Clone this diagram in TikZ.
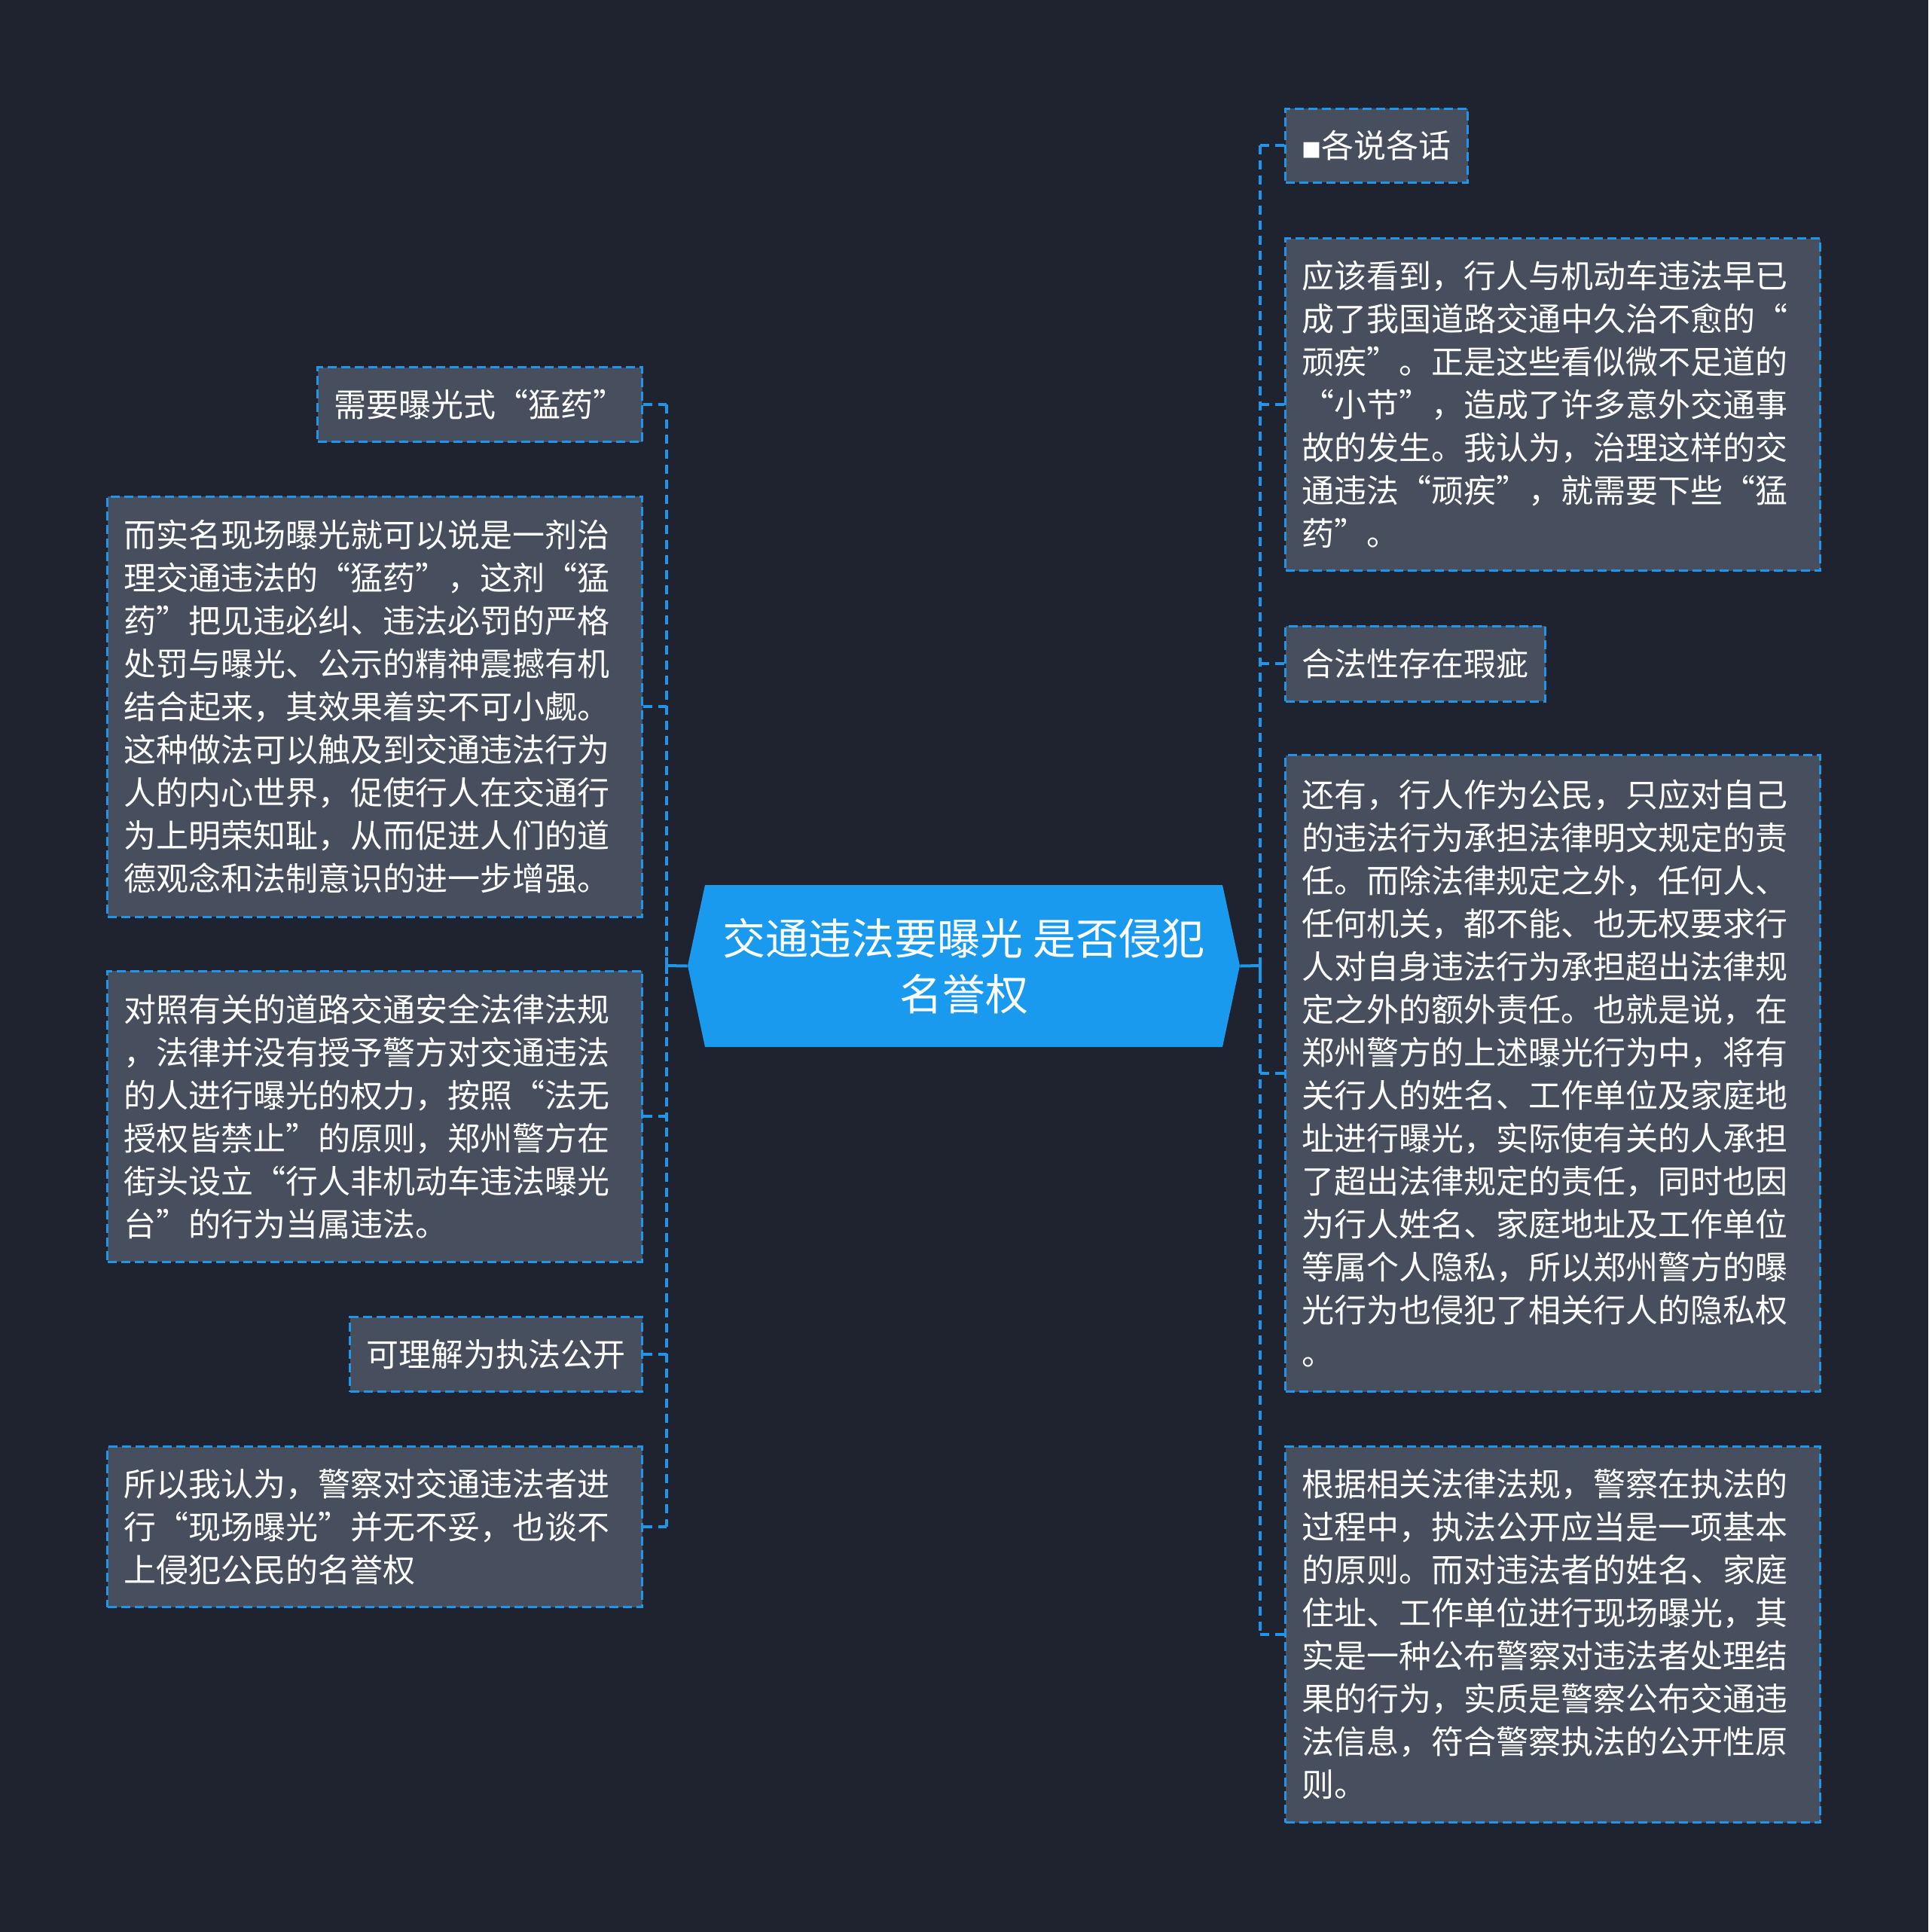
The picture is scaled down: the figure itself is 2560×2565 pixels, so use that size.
\documentclass[tikz,border=0pt]{standalone}
\usepackage{fontspec}
\setmainfont{Noto Sans CJK SC}
\definecolor{bg}{HTML}{1F2330}
\definecolor{boxfill}{HTML}{474E5E}
\definecolor{lineblue}{HTML}{1E96EA}
\definecolor{centerblue}{HTML}{1A9AEF}
\tikzset{
  leaf/.style={draw=lineblue, fill=boxfill, line width=1.5pt, dash pattern=on 6pt off 3pt,
    text=white, inner xsep=11pt, inner ysep=0pt, align=left,
    font=\fontsize{21.5pt}{28.5pt}\selectfont},
  wide/.style={leaf, text width=333pt},
  conn/.style={draw=lineblue, line width=2pt, dash pattern=on 6pt off 4pt},
  solidconn/.style={draw=lineblue, line width=2pt},
  centertext/.style={text=white, align=center, inner sep=0pt,
    font=\fontsize{28.5pt}{37pt}\selectfont}
}
\begin{document}
\begin{tikzpicture}[x=0.5pt,y=-0.5pt]
\path[fill=bg] (0,0) rectangle (2560,2565);
\useasboundingbox (0,0) rectangle (2560,2565);

% central topic
\fill[centerblue] (913,1282) -- (936,1175) -- (1623,1175) -- (1646,1282) -- (1623,1390) -- (936,1390) -- cycle;
\node[centertext, minimum width=366.5pt, minimum height=107.5pt] (c) at (1279.5,1282.5)
  {交通违法要曝光 是否侵犯\\名誉权};

\coordinate (jl) at (885,1282);
\coordinate (jr) at (1673,1282);

% left nodes
\node[leaf, anchor=east, minimum height=49.5pt] (L1) at (854,537) {需要曝光式“猛药”};
\node[wide, anchor=east, minimum height=279pt] (L2) at (854,938) {而实名现场曝光就可以说是一剂治\\
理交通违法的“猛药”，这剂“猛\\
药”把见违必纠、违法必罚的严格\\
处罚与曝光、公示的精神震撼有机\\
结合起来，其效果着实不可小觑。\\
这种做法可以触及到交通违法行为\\
人的内心世界，促使行人在交通行\\
为上明荣知耻，从而促进人们的道\\
德观念和法制意识的进一步增强。};
\node[wide, anchor=east, minimum height=193pt] (L3) at (854,1482) {对照有关的道路交通安全法律法规\\
，法律并没有授予警方对交通违法\\
的人进行曝光的权力，按照“法无\\
授权皆禁止”的原则，郑州警方在\\
街头设立“行人非机动车违法曝光\\
台”的行为当属违法。};
\node[leaf, anchor=east, minimum height=49.5pt] (L4) at (854,1798) {可理解为执法公开};
\node[wide, anchor=east, minimum height=106.5pt] (L5) at (854,2027) {所以我认为，警察对交通违法者进\\
行“现场曝光”并无不妥，也谈不\\
上侵犯公民的名誉权};

% right nodes
\node[leaf, anchor=west, minimum height=49pt] (R1) at (1705,193) {{\fontsize{13pt}{13pt}\selectfont ■}各说各话};
\node[wide, anchor=west, minimum height=220.5pt] (R2) at (1705,537) {应该看到，行人与机动车违法早已\\
成了我国道路交通中久治不愈的“\\
顽疾”。正是这些看似微不足道的\\
“小节”，造成了许多意外交通事\\
故的发生。我认为，治理这样的交\\
通违法“顽疾”，就需要下些“猛\\
药”。};
\node[leaf, anchor=west, minimum height=50pt] (R3) at (1705,881) {合法性存在瑕疵};
\node[wide, anchor=west, minimum height=422.5pt] (R4) at (1705,1425) {还有，行人作为公民，只应对自己\\
的违法行为承担法律明文规定的责\\
任。而除法律规定之外，任何人、\\
任何机关，都不能、也无权要求行\\
人对自身违法行为承担超出法律规\\
定之外的额外责任。也就是说，在\\
郑州警方的上述曝光行为中，将有\\
关行人的姓名、工作单位及家庭地\\
址进行曝光，实际使有关的人承担\\
了超出法律规定的责任，同时也因\\
为行人姓名、家庭地址及工作单位\\
等属个人隐私，所以郑州警方的曝\\
光行为也侵犯了相关行人的隐私权\\
。};
\node[wide, anchor=west, minimum height=249.5pt] (R5) at (1705,2170) {根据相关法律法规，警察在执法的\\
过程中，执法公开应当是一项基本\\
的原则。而对违法者的姓名、家庭\\
住址、工作单位进行现场曝光，其\\
实是一种公布警察对违法者处理结\\
果的行为，实质是警察公布交通违\\
法信息，符合警察执法的公开性原\\
则。};

% connectors
\draw[solidconn] (c.west) -- (jl);
\draw[solidconn] ([yshift=5.5pt]jl) -- ([yshift=-5.5pt]jl);
\draw[solidconn] (c.east) -- (jr);
\draw[solidconn] ([yshift=5.5pt]jr) -- ([yshift=-5.5pt]jr);

\draw[conn] (jl |- L1.east) -- (jl |- L5.east);
\foreach \n in {L1,L2,L3,L4,L5} \draw[conn] (\n.east) -- (\n.east -| jl);

\draw[conn] (jr |- R1.west) -- (jr |- R5.west);
\foreach \n in {R1,R2,R3,R4,R5} \draw[conn] (\n.west) -- (\n.west -| jr);
\end{tikzpicture}
\end{document}
